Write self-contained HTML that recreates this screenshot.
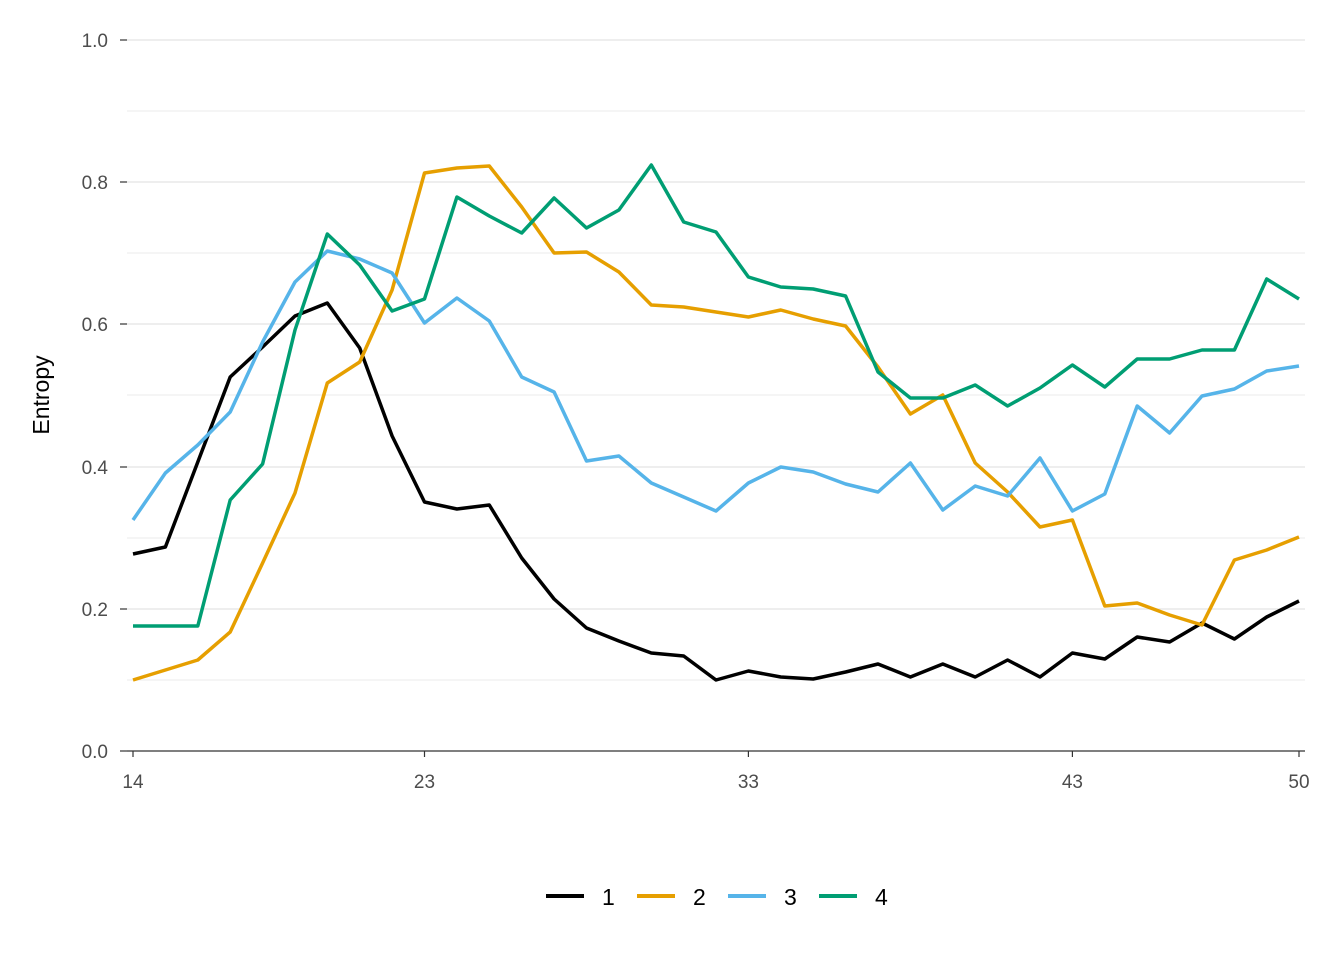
<!DOCTYPE html>
<html><head><meta charset="utf-8"><style>body{margin:0;background:#fff}svg{display:block}</style></head><body>
<svg width="1344" height="960" xmlns="http://www.w3.org/2000/svg" font-family="Liberation Sans, sans-serif">
<rect width="1344" height="960" fill="#fff"/>
<g stroke="#ebebeb" stroke-width="1">
<line x1="127" x2="1305" y1="680" y2="680"/><line x1="127" x2="1305" y1="538" y2="538"/><line x1="127" x2="1305" y1="395" y2="395"/><line x1="127" x2="1305" y1="253" y2="253"/><line x1="127" x2="1305" y1="111" y2="111"/>
</g>
<g stroke="#e3e3e3" stroke-width="1.3">
<line x1="127" x2="1305" y1="609" y2="609"/><line x1="127" x2="1305" y1="467" y2="467"/><line x1="127" x2="1305" y1="324" y2="324"/><line x1="127" x2="1305" y1="182" y2="182"/><line x1="127" x2="1305" y1="40" y2="40"/>
</g>
<g stroke="#333" stroke-width="1.2">
<line x1="127" x2="1305" y1="751" y2="751"/>
<line x1="120" x2="127" y1="751" y2="751"/><line x1="120" x2="127" y1="609" y2="609"/><line x1="120" x2="127" y1="467" y2="467"/><line x1="120" x2="127" y1="324" y2="324"/><line x1="120" x2="127" y1="182" y2="182"/><line x1="120" x2="127" y1="40" y2="40"/>
<line x1="133" x2="133" y1="751" y2="757"/><line x1="424.5" x2="424.5" y1="751" y2="757"/><line x1="748.4" x2="748.4" y1="751" y2="757"/><line x1="1072.4" x2="1072.4" y1="751" y2="757"/><line x1="1299" x2="1299" y1="751" y2="757"/>
</g>
<g font-size="19" fill="#4d4d4d" text-anchor="end">
<text x="108" y="758">0.0</text><text x="108" y="616">0.2</text><text x="108" y="474">0.4</text><text x="108" y="331">0.6</text><text x="108" y="189">0.8</text><text x="108" y="47">1.0</text>
</g>
<g font-size="19" fill="#4d4d4d" text-anchor="middle">
<text x="133" y="788">14</text><text x="424.5" y="788">23</text><text x="748.4" y="788">33</text><text x="1072.4" y="788">43</text><text x="1299" y="788">50</text>
</g>
<text transform="translate(49,395) rotate(-90)" font-size="23" text-anchor="middle" fill="#000">Entropy</text>
<g fill="none" stroke-width="3.5" stroke-linejoin="round">
<polyline stroke="#000" points="133,554 165.4,547 197.8,462 230.2,377 262.6,347 295,316 327.3,303 359.7,348 392.1,436 424.5,502 456.9,509 489.3,505 521.7,558 554.1,599 586.5,628 618.9,641 651.3,653 683.7,656 716,680 748.4,671 780.8,677 813.2,679 845.6,672 878,664 910.4,677 942.8,664 975.2,677 1007.6,660 1040,677 1072.4,653 1104.8,659 1137.2,637 1169.6,642 1202,623 1234.4,639 1266.7,617 1299,601"/>
<polyline stroke="#E69F00" points="133,680 165.4,670 197.8,660 230.2,632 262.6,563 295,493 327.3,383 359.7,362 392.1,290 424.5,173 456.9,168 489.3,166 521.7,207 554.1,253 586.5,252 618.9,272 651.3,305 683.7,307 716,312 748.4,317 780.8,310 813.2,319 845.6,326 878,367 910.4,414 942.8,395 975.2,463 1007.6,492 1040,527 1072.4,520 1104.8,606 1137.2,603 1169.6,615 1202,625 1234.4,560 1266.7,550 1299,537"/>
<polyline stroke="#56B4E9" points="133,520 165.4,473 197.8,445 230.2,412 262.6,342 295,282 327.3,251 359.7,259 392.1,273 424.5,323 456.9,298 489.3,321 521.7,377 554.1,392 586.5,461 618.9,456 651.3,483 683.7,497 716,511 748.4,483 780.8,467 813.2,472 845.6,484 878,492 910.4,463 942.8,510 975.2,486 1007.6,496 1040,458 1072.4,511 1104.8,494 1137.2,406 1169.6,433 1202,396 1234.4,389 1266.7,371 1299,366"/>
<polyline stroke="#009E73" points="133,626 165.4,626 197.8,626 230.2,500 262.6,464 295,330 327.3,234 359.7,265 392.1,311 424.5,299 456.9,197 489.3,216 521.7,233 554.1,198 586.5,228 618.9,210 651.3,165 683.7,222 716,232 748.4,277 780.8,287 813.2,289 845.6,296 878,372 910.4,398 942.8,398 975.2,385 1007.6,406 1040,388 1072.4,365 1104.8,387 1137.2,359 1169.6,359 1202,350 1234.4,350 1266.7,279 1299,299"/>
</g>
<g stroke-width="4">
<line x1="546" x2="584" y1="896" y2="896" stroke="#000"/>
<line x1="637" x2="675" y1="896" y2="896" stroke="#E69F00"/>
<line x1="728" x2="766" y1="896" y2="896" stroke="#56B4E9"/>
<line x1="819" x2="857" y1="896" y2="896" stroke="#009E73"/>
</g>
<g font-size="23" fill="#000">
<text x="602" y="905">1</text><text x="693" y="905">2</text><text x="784" y="905">3</text><text x="875" y="905">4</text>
</g>
</svg>
</body></html>
